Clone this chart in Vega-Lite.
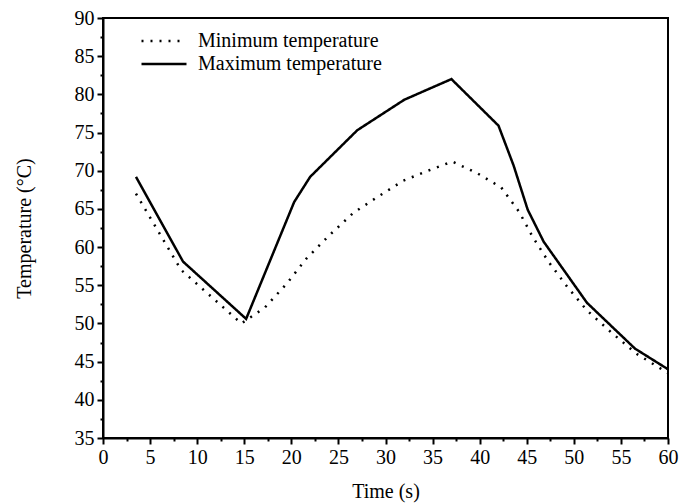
{
  "$schema": "https://vega.github.io/schema/vega-lite/v6.json",
  "autosize": "none",
  "width": 565,
  "height": 420,
  "padding": {"left": 103, "top": 18, "right": 12, "bottom": 66},
  "background": "white",
  "config": {
    "font": "Liberation Serif",
    "view": {"stroke": "black", "strokeWidth": 2},
    "axis": {"labelFont": "Liberation Serif", "titleFont": "Liberation Serif", "labelColor": "black", "titleColor": "black", "labelFontSize": 20, "titleFontSize": 20, "titleFontWeight": "normal", "grid": false, "domainColor": "black", "domainWidth": 2, "tickColor": "black", "tickWidth": 2}
  },
  "datasets": {
    "temps": [
      {"time": 3.5, "temp": 69.2, "series": "Maximum temperature"},
      {"time": 8.5, "temp": 58.1, "series": "Maximum temperature"},
      {"time": 15.2, "temp": 50.6, "series": "Maximum temperature"},
      {"time": 20.3, "temp": 65.9, "series": "Maximum temperature"},
      {"time": 22.0, "temp": 69.2, "series": "Maximum temperature"},
      {"time": 27.0, "temp": 75.3, "series": "Maximum temperature"},
      {"time": 32.0, "temp": 79.3, "series": "Maximum temperature"},
      {"time": 37.0, "temp": 82.0, "series": "Maximum temperature"},
      {"time": 42.0, "temp": 75.9, "series": "Maximum temperature"},
      {"time": 43.6, "temp": 70.7, "series": "Maximum temperature"},
      {"time": 45.1, "temp": 64.9, "series": "Maximum temperature"},
      {"time": 46.8, "temp": 60.7, "series": "Maximum temperature"},
      {"time": 51.4, "temp": 52.7, "series": "Maximum temperature"},
      {"time": 56.5, "temp": 46.7, "series": "Maximum temperature"},
      {"time": 60.0, "temp": 44.0, "series": "Maximum temperature"},
      {"time": 3.5, "temp": 67.0, "series": "Minimum temperature"},
      {"time": 8.3, "temp": 57.0, "series": "Minimum temperature"},
      {"time": 14.7, "temp": 50.0, "series": "Minimum temperature"},
      {"time": 17.2, "temp": 52.1, "series": "Minimum temperature"},
      {"time": 19.5, "temp": 55.2, "series": "Minimum temperature"},
      {"time": 21.6, "temp": 58.5, "series": "Minimum temperature"},
      {"time": 24.0, "temp": 61.5, "series": "Minimum temperature"},
      {"time": 26.6, "temp": 64.5, "series": "Minimum temperature"},
      {"time": 29.2, "temp": 66.6, "series": "Minimum temperature"},
      {"time": 31.9, "temp": 68.7, "series": "Minimum temperature"},
      {"time": 34.5, "temp": 70.0, "series": "Minimum temperature"},
      {"time": 37.1, "temp": 71.2, "series": "Minimum temperature"},
      {"time": 39.7, "temp": 69.7, "series": "Minimum temperature"},
      {"time": 42.3, "temp": 67.8, "series": "Minimum temperature"},
      {"time": 44.2, "temp": 64.6, "series": "Minimum temperature"},
      {"time": 45.6, "temp": 61.4, "series": "Minimum temperature"},
      {"time": 47.3, "temp": 58.1, "series": "Minimum temperature"},
      {"time": 49.3, "temp": 54.8, "series": "Minimum temperature"},
      {"time": 51.4, "temp": 51.7, "series": "Minimum temperature"},
      {"time": 54.0, "temp": 48.8, "series": "Minimum temperature"},
      {"time": 56.7, "temp": 46.0, "series": "Minimum temperature"},
      {"time": 60.0, "temp": 43.5, "series": "Minimum temperature"}
    ]
  },
  "data": {"name": "temps"},
  "resolve": {"axis": {"x": "independent", "y": "independent"}},
  "layer": [
    {
      "mark": {"type": "line", "color": "black", "strokeWidth": 2.5},
      "encoding": {
        "x": {"field": "time", "type": "quantitative", "scale": {"domain": [0, 60], "nice": false},
          "axis": {"orient": "bottom", "title": "Time (s)", "values": [0,5,10,15,20,25,30,35,40,45,50,55,60], "tickSize": 6, "labelPadding": 3, "titlePadding": 14, "labelFlush": false, "domainColor": "black", "tickColor": "black", "labelColor": "black", "titleColor": "black"}},
        "y": {"field": "temp", "type": "quantitative", "scale": {"domain": [35, 90], "nice": false, "zero": false},
          "axis": {"orient": "left", "title": "Temperature (°C)", "values": [35,40,45,50,55,60,65,70,75,80,85,90], "tickSize": 6, "labelPadding": 3, "titlePadding": 40, "labelFlush": false, "domainColor": "black", "tickColor": "black", "labelColor": "black", "titleColor": "black"}},
        "strokeDash": {"field": "series", "type": "nominal",
          "scale": {"domain": ["Minimum temperature", "Maximum temperature"], "range": [[2, 7], [1, 0]]},
          "legend": {"title": null, "orient": "none", "legendX": 37, "legendY": 13, "symbolType": "stroke", "symbolSize": 2025, "symbolStrokeWidth": 2.5, "symbolStrokeColor": "black", "labelFontSize": 20, "labelFont": "Liberation Serif", "labelColor": "black", "labelOffset": 10, "labelLimit": 400, "rowPadding": 3, "clipHeight": 20}},
        "detail": {"field": "series"},
        "order": {"field": "time", "type": "quantitative"}
      }
    },
    {
      "mark": {"type": "point", "opacity": 0},
      "encoding": {
        "x": {"field": "time", "type": "quantitative",
          "axis": {"orient": "bottom", "title": null, "labels": false, "domain": false, "values": [2.5,7.5,12.5,17.5,22.5,27.5,32.5,37.5,42.5,47.5,52.5,57.5], "tickSize": 3, "tickColor": "black"}},
        "y": {"field": "temp", "type": "quantitative",
          "axis": {"orient": "left", "title": null, "labels": false, "domain": false, "values": [37.5,42.5,47.5,52.5,57.5,62.5,67.5,72.5,77.5,82.5,87.5], "tickSize": 3, "tickColor": "black"}}
      }
    }
  ]
}
